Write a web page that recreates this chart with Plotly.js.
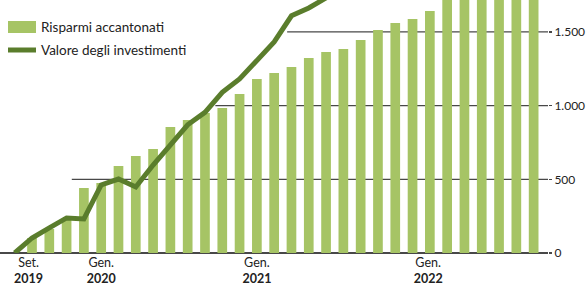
<!DOCTYPE html>
<html>
<head>
<meta charset="utf-8">
<script src="https://cdn.plot.ly/plotly-3.0.1.min.js"></script>
<style>
html,body{margin:0;padding:0;background:#fff;}
#chart{width:586px;height:287px;}
</style>
</head>
<body>
<div id="chart"></div>
<script>
// Period index: -1 = Set. 2019 (start), bars from index 0
const barPeriods = [0,1,2,3,4,5,6,7,8,9,10,11,12,13,14,15,16,17,18,19,20,21,22,23,24,25,26,27,28,29];
const risparmi = [102,163,224,441,475,590,658,706,855,903,950,984,1079,1181,1222,1262,1324,1364,1385,1446,1514,1561,1588,1643,1760,1800,1840,1880,1920,1960];

const linePeriods = [-1,0,1,2,3,4,5,6,7,8,9,10,11,12,13,14,15,16,17,18];
const investimenti = [0,102,170,238,231,462,502,448,597,733,870,955,1090,1181,1310,1432,1610,1663,1731,1800];

const tickPeriods = [-0.2, 4, 13, 22.9];
const tickLabels = ["Set.<br><b>2019</b>", "Gen.<br><b>2020</b>", "Gen.<br><b>2021</b>", "Gen.<br><b>2022</b>"];

const gridValues = [500, 1000, 1500];
const gridStartPeriods = [2.3, 10.6, 14.75];

const seriesNames = ["Risparmi accantonati", "Valore degli investimenti"];

const barColor = "#a6c465";
const lineColor = "#5a7d2c";
const gridColor = "#484848";
const FONT = "Lato, 'Open Sans', sans-serif";

const W = 548, H = 253; // plot area in px
function px(x){ return x / W; }
function py(y){ return 1 - y / H; }

const traces = [
  {
    type: "bar",
    x: barPeriods,
    y: risparmi,
    name: seriesNames[0],
    marker: {color: barColor},
    width: 0.56,
    hoverinfo: "skip"
  },
  {
    type: "scatter",
    mode: "lines",
    x: linePeriods,
    y: investimenti,
    name: seriesNames[1],
    line: {color: lineColor, width: 5},
    hoverinfo: "skip"
  }
];

const gridShapes = gridValues.map((v, i) => ({
  type: "line", xref: "x", yref: "y", layer: "below",
  x0: gridStartPeriods[i], x1: 29.83, y0: v, y1: v,
  line: {color: gridColor, width: 1.2}
}));

const layout = {
  width: 586,
  height: 287,
  margin: {l: 0, r: 38, t: 0, b: 34, pad: 0},
  paper_bgcolor: "#ffffff",
  plot_bgcolor: "#ffffff",
  showlegend: false,
  separators: ",.",
  font: {family: FONT, size: 13, color: "#222"},
  xaxis: {
    range: [-1.85, 29.83],
    tickvals: tickPeriods,
    ticktext: tickLabels,
    ticks: "",
    showgrid: false,
    zeroline: false,
    showline: false,
    tickfont: {family: FONT, size: 12.5, color: "#222"},
    fixedrange: true
  },
  yaxis: {
    side: "right",
    range: [0, 1717],
    dtick: 500,
    tick0: 0,
    tickformat: ",d",
    showgrid: false,
    zeroline: true,
    zerolinecolor: gridColor,
    zerolinewidth: 1.5,
    ticks: "outside",
    ticklen: 3,
    tickcolor: gridColor,
    tickwidth: 1.2,
    ticklabelstandoff: 0,
    tickfont: {family: FONT, size: 12, color: "#222"},
    fixedrange: true
  },
  shapes: gridShapes.concat([
    {type: "rect", xref: "paper", yref: "paper", x0: px(8), x1: px(36), y0: py(33), y1: py(21),
     fillcolor: barColor, line: {width: 0}},
    {type: "line", xref: "paper", yref: "paper", x0: px(8), x1: px(36), y0: py(50), y1: py(50),
     line: {color: lineColor, width: 5}}
  ]),
  annotations: [
    {xref: "paper", yref: "paper", x: px(39), y: py(27), xanchor: "left", yanchor: "middle",
     text: seriesNames[0], showarrow: false, font: {family: FONT, size: 13.5, color: "#222"}},
    {xref: "paper", yref: "paper", x: px(39), y: py(50), xanchor: "left", yanchor: "middle",
     text: seriesNames[1], showarrow: false, font: {family: FONT, size: 13.5, color: "#222"}}
  ]
};

Plotly.newPlot("chart", traces, layout, {displayModeBar: false, staticPlot: true});
</script>
</body>
</html>
